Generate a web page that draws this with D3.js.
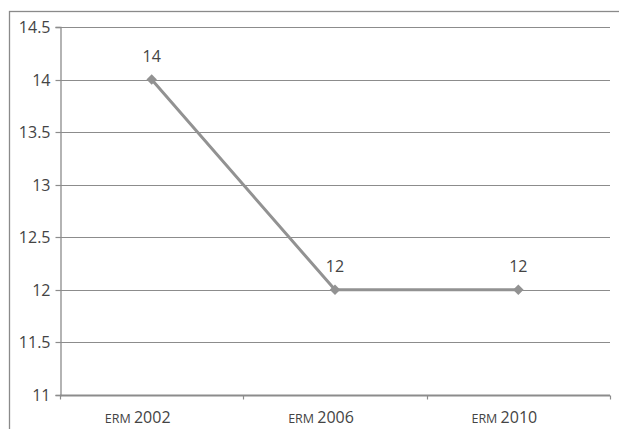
<!DOCTYPE html>
<html><head><meta charset="utf-8">
<script src="https://cdn.jsdelivr.net/npm/d3@7"></script>
<style>
body{margin:0;background:#fff;}
svg{display:block;font-family:"Open Sans",sans-serif;}
</style></head>
<body><svg id="c" width="619" height="429"></svg>
<script>
const categories = ["2002","2006","2010"];
const categoryPrefix = "ERM";
const values = [14, 12, 12];
const yTicks = [11, 11.5, 12, 12.5, 13, 13.5, 14, 14.5];

const svg = d3.select("#c");
const W = 619, H = 429;
const m = {left:60, right:9, top:27, bottom:34};

// outer frame (cut at right and bottom)
svg.append("rect").attr("x",9.5).attr("y",11.5).attr("width",W).attr("height",H)
  .attr("fill","none").attr("stroke","#8a8a8a").attr("stroke-width",1.3);

const x = d3.scaleBand().domain(categories).range([m.left, W - m.right]).paddingInner(0).paddingOuter(0);
const y = d3.scaleLinear().domain([11, 14.5]).range([H - m.bottom, m.top]);

// gridlines
svg.append("g").selectAll("line").data(yTicks.slice(1)).join("line")
  .attr("x1", m.left).attr("x2", W - m.right)
  .attr("y1", d => Math.round(y(d)) + 0.5).attr("y2", d => Math.round(y(d)) + 0.5)
  .attr("stroke", "#8c8c8c").attr("stroke-width", 1.2);

// y axis
const yAxis = svg.append("g").attr("transform", `translate(${m.left + 0.5},0)`)
  .call(d3.axisLeft(y).tickValues(yTicks).tickSize(5).tickPadding(5).tickFormat(d3.format("")));
yAxis.select(".domain").attr("stroke","#8c8c8c").attr("stroke-width",1.3);
yAxis.selectAll(".tick line").attr("stroke","#8c8c8c").attr("stroke-width",1.2);
yAxis.selectAll(".tick text").attr("fill","#444").attr("font-size",16).attr("font-family","Open Sans");
yAxis.selectAll(".tick").attr("transform", d => `translate(0,${Math.round(y(d)) + 0.5})`);

// x axis
const xAxisY = Math.round(y(11)) + 0.5;
const xg = svg.append("g");
xg.append("line").attr("x1", m.left).attr("x2", W - m.right).attr("y1", xAxisY).attr("y2", xAxisY)
  .attr("stroke","#8c8c8c").attr("stroke-width",2);
const bounds = categories.map(c => x(c)).concat([x(categories[categories.length-1]) + x.bandwidth()]);
xg.selectAll("line.tk").data(bounds).join("line").attr("class","tk")
  .attr("x1", d => Math.round(d) + 0.5).attr("x2", d => Math.round(d) + 0.5)
  .attr("y1", xAxisY).attr("y2", xAxisY + 4)
  .attr("stroke","#8c8c8c").attr("stroke-width",1.2);
const xl = xg.selectAll("text").data(categories).join("text")
  .attr("x", d => x(d) + x.bandwidth()/2 - 14).attr("y", 423)
  .attr("text-anchor","middle").attr("fill","#444").attr("font-size",16);
xl.append("tspan").attr("font-size",12.5).text(categoryPrefix + " ");
xl.append("tspan").text(d => d);

// line
const pts = categories.map((c, i) => [x(c) + x.bandwidth()/2, y(values[i])]);
svg.append("path").datum(pts).attr("d", d3.line())
  .attr("fill","none").attr("stroke","#929292").attr("stroke-width",3).attr("stroke-linejoin","round");

// markers
svg.append("g").selectAll("path").data(pts).join("path")
  .attr("transform", d => `translate(${d[0]},${d[1]})`)
  .attr("d", d3.symbol(d3.symbolDiamond2, 70)())
  .attr("fill","#929292");

// data labels
svg.append("g").selectAll("text").data(pts).join("text")
  .attr("x", d => d[0]).attr("y", d => d[1] - 18)
  .attr("text-anchor","middle").attr("fill","#444").attr("font-size",16)
  .text((d, i) => values[i]);
</script></body></html>
